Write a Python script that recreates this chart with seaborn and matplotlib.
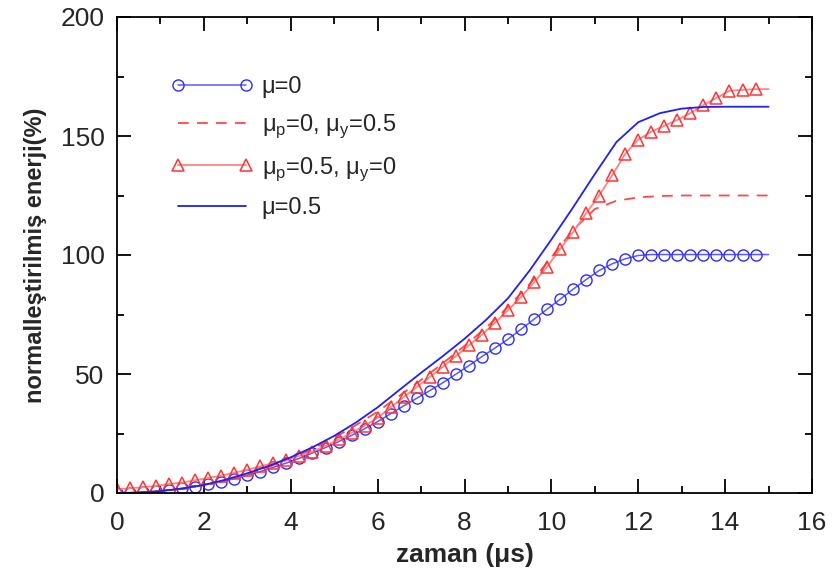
import numpy as np
import pandas as pd
import seaborn as sns
import matplotlib
matplotlib.use("Agg")
import matplotlib.pyplot as plt
from matplotlib.ticker import MultipleLocator

# time axis (µs) for the marked series: one sample every 0.3 µs
t_marked = [round(0.3 * i, 1) for i in range(51)]
# time axis (µs) for the plain line series: one sample every 0.5 µs
t_plain = [round(0.5 * i, 1) for i in range(31)]

# mu = 0  (circles)
energy_mu0 = [
    0.0, 0.1, 0.3, 0.7, 1.2, 1.9, 2.7, 3.7, 4.8, 6.0,
    7.5, 9.0, 10.8, 12.6, 14.6, 16.8, 19.1, 21.6, 24.2, 27.0,
    30.0, 33.3, 36.6, 39.8, 43.0, 46.3, 49.9, 53.5, 57.3, 60.9,
    64.6, 68.8, 73.0, 77.2, 81.4, 85.6, 89.7, 93.5, 96.3, 98.4,
    99.8, 100.2, 100.2, 100.2, 100.2, 100.2, 100.2, 100.2, 100.2, 100.2,
    100.2,
]

# mu_p = 0.5, mu_y = 0  (triangles)
energy_mup05 = [
    1.5, 2.0, 2.4, 3.0, 3.8, 4.4, 5.4, 6.3, 7.3, 8.5,
    9.8, 11.2, 12.6, 14.0, 15.6, 17.4, 19.8, 22.5, 25.3, 28.3,
    31.6, 36.0, 40.3, 44.5, 48.7, 53.0, 57.5, 62.0, 66.5, 71.5,
    76.8, 82.3, 88.5, 95.0, 102.5, 109.6, 117.5, 125.0, 133.5, 142.5,
    148.5, 151.8, 154.3, 156.8, 159.6, 163.0, 166.0, 169.0, 169.4, 169.7,
    169.7,
]

# mu_p = 0, mu_y = 0.5  (dashed)
energy_muy05 = [
    0.0, 0.2, 0.8, 1.8, 3.3, 5.3, 7.9, 11.0, 14.5, 18.5,
    23.2, 28.5, 34.2, 40.8, 47.5, 54.5, 61.8, 69.5, 78.2, 87.8,
    99.0, 110.5, 119.3, 122.8, 124.2, 124.8, 125.0, 125.0, 125.0, 125.0,
    125.0,
]

# mu = 0.5  (solid)
energy_mu05 = [
    0.0, 0.2, 0.8, 1.9, 3.4, 5.6, 8.3, 11.4, 15.0, 19.2,
    24.0, 29.6, 36.0, 43.3, 50.5, 57.5, 64.8, 72.8, 81.8, 93.5,
    106.5, 120.0, 134.0, 147.5, 155.8, 159.6, 161.5, 162.2, 162.3, 162.3,
    162.3,
]

labels = [
    "μ=0",
    "μ$_\\mathregular{p}$=0, μ$_\\mathregular{y}$=0.5",
    "μ$_\\mathregular{p}$=0.5, μ$_\\mathregular{y}$=0",
    "μ=0.5",
]

sns.set_theme(style="ticks")
plt.rcParams["font.family"] = ["Liberation Sans", "DejaVu Sans"]
plt.rcParams["mathtext.fontset"] = "custom"
plt.rcParams["mathtext.rm"] = "Liberation Sans"

fig = plt.figure(figsize=(8.32, 5.82), dpi=100)
ax = fig.add_axes([117 / 832, 1 - 493 / 582, 695 / 832, 476 / 582])

blue = "#2b2bff"
red = "#ff3434"

n_marked = len(t_marked) - 1

sns.lineplot(x=t_marked, y=energy_mu0, ax=ax, color="#5a5aff", lw=1.1,
             marker="o", markersize=8, markerfacecolor="none",
             markeredgecolor=blue, markeredgewidth=1.0,
             markevery=slice(0, n_marked), label=labels[0],
             estimator=None, sort=False)
sns.lineplot(x=t_plain, y=energy_muy05, ax=ax, color="#ff4848", lw=1.3,
             dashes=False, linestyle=(0, (6, 4.5)), label=labels[1],
             estimator=None, sort=False)
sns.lineplot(x=t_marked, y=energy_mup05, ax=ax, color="#ff8585", lw=1.3,
             marker="^", markersize=9, markerfacecolor="none",
             markeredgecolor=red, markeredgewidth=1.1,
             markevery=slice(0, n_marked), label=labels[2],
             estimator=None, sort=False)
sns.lineplot(x=t_plain, y=energy_mu05, ax=ax, color="#2020f0", lw=1.3,
             label=labels[3], estimator=None, sort=False)

ax.set_xlim(0, 16)
ax.set_ylim(0, 200)
ax.xaxis.set_major_locator(MultipleLocator(2))
ax.xaxis.set_minor_locator(MultipleLocator(1))
ax.yaxis.set_major_locator(MultipleLocator(50))
ax.yaxis.set_minor_locator(MultipleLocator(25))
ax.tick_params(which="both", direction="in", top=True, right=True,
               width=1.3, color="black", labelsize=19)
ax.tick_params(axis="x", which="both", pad=13)
ax.tick_params(axis="y", which="both", pad=9)
ax.tick_params(which="major", length=10)
ax.tick_params(which="minor", length=5)
for sp in ax.spines.values():
    sp.set_visible(True)
    sp.set_linewidth(1.3)
    sp.set_color("black")

ax.set_xlabel("zaman (μs)", fontsize=19, fontweight="bold", labelpad=6)
ax.set_ylabel("normalleştirilmiş enerji(%)", fontsize=17, fontweight="bold",
              labelpad=10)

leg = ax.legend(loc="upper left", bbox_to_anchor=(0.047, 0.921), frameon=False,
                fontsize=17, handlelength=3.5, numpoints=2,
                labelspacing=0.62, handletextpad=0.35)

fig.savefig("out.png", dpi=100)
